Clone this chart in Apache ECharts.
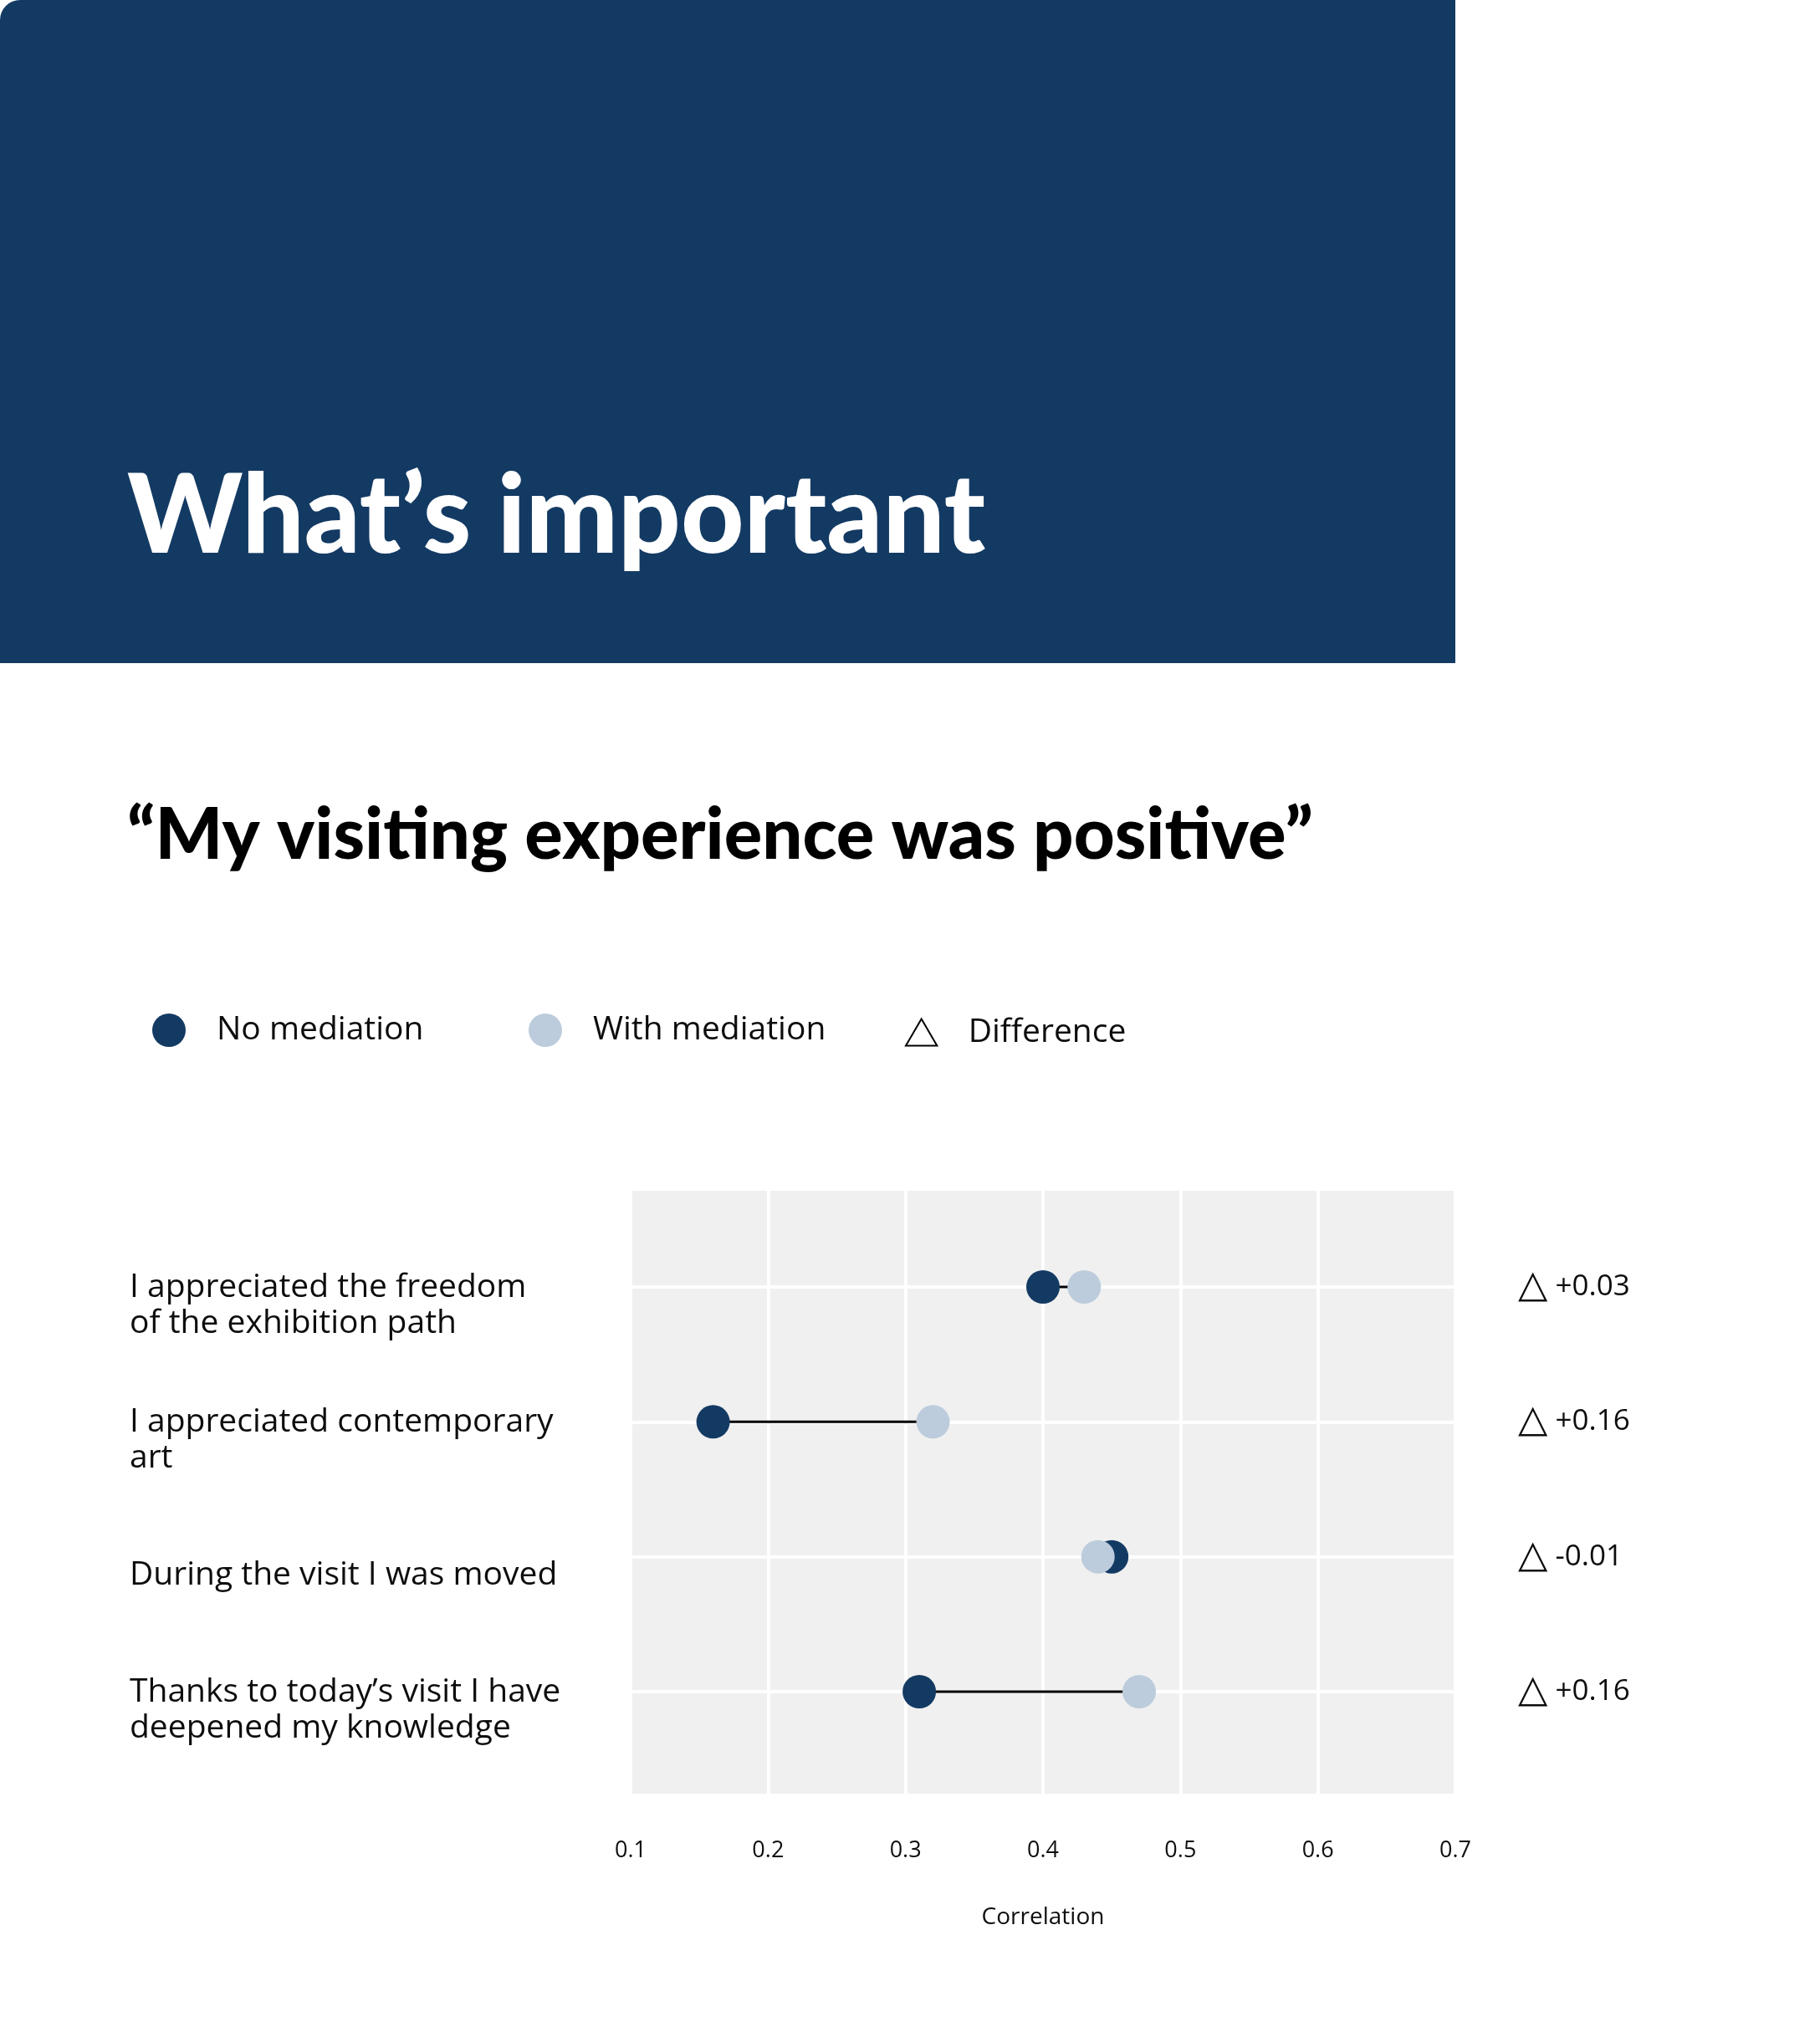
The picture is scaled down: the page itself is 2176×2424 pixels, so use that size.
<!DOCTYPE html>
<html>
<head>
<meta charset="utf-8">
<script src="https://cdn.jsdelivr.net/npm/echarts@6/dist/echarts.min.js"></script>
<style>
  html, body { margin: 0; padding: 0; background: #ffffff; }
  #chart { width: 2176px; height: 2424px; }
</style>
</head>
<body>
<div id="chart"></div>
<script>
// ---- Data ----
const categories = [
  'I appreciated the freedom\nof the exhibition path',
  'I appreciated contemporary\nart',
  'During the visit I was moved',
  'Thanks to today\u2019s visit I have\ndeepened my knowledge'
];
const noMediation = [0.40, 0.16, 0.45, 0.31];
const withMediation = [0.43, 0.32, 0.44, 0.47];
const differenceLabels = ['+0.03', '+0.16', '-0.01', '+0.16'];
const xMin = 0.1;
const xMax = 0.7;
const xStep = 0.1;
const seriesNames = ['No mediation', 'With mediation', 'Difference'];
const titleText = 'What\u2019s important';
const subtitleText = '\u201CMy visiting experience was positive\u201D';
const axisTitle = 'Correlation';

// ---- Style ----
const NAVY = '#133A63';
const LIGHT = '#BCCCDC';
const PLOT_BG = '#F0F0F0';
const HEAD_FONT = 'Lato, "Noto Sans", sans-serif';
const FONT = '"Open Sans", "Noto Sans", sans-serif';
const INK = '#0d0d0d';

const chart = echarts.init(document.getElementById('chart'), null, { renderer: 'canvas' });

const option = {
  backgroundColor: '#ffffff',
  animation: false,
  textStyle: { fontFamily: FONT, color: INK },
  graphic: [
    {
      type: 'rect',
      left: 0, top: 0, z: -10,
      shape: { width: 1740, height: 793, r: [24, 0, 0, 0] },
      style: { fill: NAVY }
    }
  ],
  title: [
    {
      text: titleText,
      left: 152, top: 553,
      padding: 0,
      textStyle: { color: '#ffffff', fontSize: 131, fontWeight: 900, fontFamily: HEAD_FONT }
    },
    {
      text: subtitleText,
      left: 152, top: 957,
      padding: 0,
      textStyle: { color: '#000000', fontSize: 85, fontWeight: 900, fontFamily: HEAD_FONT }
    }
  ],
  legend: [
    {
      left: 182, top: 1212, itemWidth: 104, itemHeight: 40, padding: 0,
      selectedMode: false,
      data: [{ name: seriesNames[0], icon: 'circle' }],
      textStyle: { fontSize: 39, color: INK, fontFamily: FONT }
    },
    {
      left: 632, top: 1212, itemWidth: 104, itemHeight: 40, padding: 0,
      selectedMode: false,
      data: [{ name: seriesNames[1], icon: 'circle' }],
      textStyle: { fontSize: 39, color: INK, fontFamily: FONT }
    },
    {
      left: 1082, top: 1215, itemWidth: 102, itemHeight: 32, padding: 0,
      selectedMode: false,
      symbolKeepAspect: true,
      data: [{
        name: seriesNames[2],
        icon: 'path://M0,30 L17.5,0 L35,30 Z',
        itemStyle: { color: 'rgba(0,0,0,0)', borderColor: '#000000', borderWidth: 2 }
      }],
      textStyle: { fontSize: 39, color: INK, fontFamily: FONT }
    }
  ],
  grid: [
    {
      left: 754, top: 1424, width: 986, height: 721,
      show: true, backgroundColor: PLOT_BG, borderWidth: 0, containLabel: false
    },
    {
      left: 754, top: 1539, width: 986, height: 484,
      show: false, containLabel: false
    },
    {
      left: 754, top: 1561, width: 986, height: 484,
      show: false, containLabel: false
    }
  ],
  xAxis: [
    {
      type: 'value', gridIndex: 0,
      min: xMin, max: xMax, interval: xStep,
      axisLine: { show: false }, axisTick: { show: false },
      splitLine: { show: true, lineStyle: { color: '#ffffff', width: 4 } },
      axisLabel: { fontSize: 27, color: INK, margin: 55, fontFamily: FONT },
      name: axisTitle, nameLocation: 'middle', nameGap: 134,
      nameTextStyle: { fontSize: 28, color: INK, fontFamily: FONT }
    },
    {
      type: 'value', gridIndex: 1,
      min: xMin, max: xMax, interval: xStep,
      show: false
    },
    {
      type: 'value', gridIndex: 2,
      min: xMin, max: xMax, interval: xStep,
      show: false
    }
  ],
  yAxis: [
    {
      type: 'value', gridIndex: 0, show: false,
      splitLine: { show: false }
    },
    {
      type: 'category', gridIndex: 1,
      data: categories, inverse: true, boundaryGap: false,
      axisLine: { show: false }, axisTick: { show: false },
      splitLine: { show: true, interval: 0, lineStyle: { color: '#ffffff', width: 4 } },
      axisLabel: { show: false }
    },
    {
      type: 'category', gridIndex: 1, position: 'right',
      data: categories, inverse: true, boundaryGap: false,
      axisLine: { show: false }, axisTick: { show: false },
      splitLine: { show: false },
      axisLabel: {
        interval: 0, align: 'left', margin: 75,
        fontSize: 35, color: INK, fontFamily: FONT,
        formatter: function (v, i) { return '{t|\u25B3} ' + differenceLabels[i]; },
        rich: {
          t: { fontSize: 46, fontFamily: '"DejaVu Sans"', color: INK }
        }
      }
    },
    {
      type: 'category', gridIndex: 2, position: 'left',
      data: categories, inverse: true, boundaryGap: false,
      axisLine: { show: false }, axisTick: { show: false },
      splitLine: { show: false },
      axisLabel: {
        interval: 0, align: 'left', margin: 599,
        fontSize: 39, lineHeight: 43, color: INK, fontFamily: FONT
      }
    }
  ],
  series: [
    {
      name: seriesNames[2],
      type: 'custom',
      xAxisIndex: 1, yAxisIndex: 1,
      z: 1,
      encode: { x: [0, 1], y: 2 },
      data: categories.map(function (c, i) { return [noMediation[i], withMediation[i], i]; }),
      renderItem: function (params, api) {
        const yi = api.value(2);
        const p1 = api.coord([api.value(0), yi]);
        const p2 = api.coord([api.value(1), yi]);
        return {
          type: 'line',
          shape: { x1: p1[0], y1: p1[1], x2: p2[0], y2: p2[1] },
          style: { stroke: '#000000', lineWidth: 3 }
        };
      }
    },
    {
      name: seriesNames[0],
      type: 'scatter',
      xAxisIndex: 1, yAxisIndex: 1,
      z: 2,
      symbol: 'circle', symbolSize: 40,
      itemStyle: { color: NAVY, opacity: 1 },
      data: noMediation.map(function (v, i) { return [v, i]; })
    },
    {
      name: seriesNames[1],
      type: 'scatter',
      xAxisIndex: 1, yAxisIndex: 1,
      z: 3,
      symbol: 'circle', symbolSize: 40,
      itemStyle: { color: LIGHT, opacity: 1 },
      data: withMediation.map(function (v, i) { return [v, i]; })
    }
  ]
};

chart.setOption(option);
</script>
</body>
</html>
